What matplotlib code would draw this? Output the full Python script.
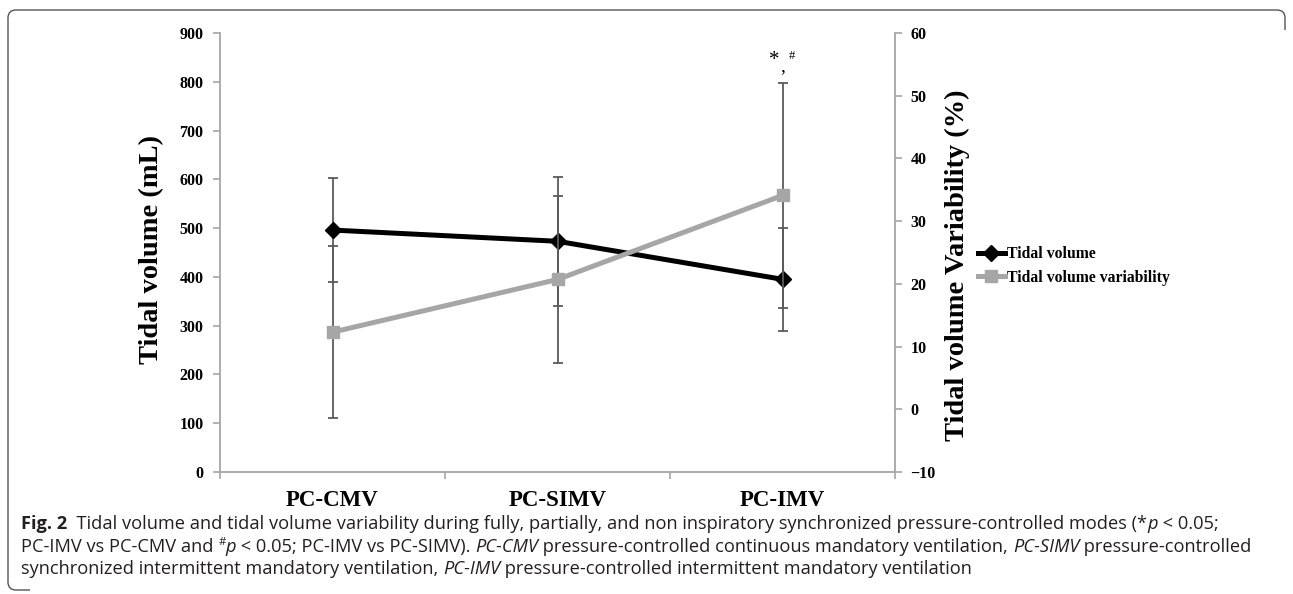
import matplotlib
matplotlib.use("Agg")
import matplotlib.pyplot as plt
from matplotlib.transforms import IdentityTransform
from matplotlib.path import Path
from matplotlib.patches import PathPatch

# ---------------- data ----------------
categories = ["PC-CMV", "PC-SIMV", "PC-IMV"]
tidal_volume = [496, 473, 395]          # mL
tidal_volume_sd = [106, 132, 105]
tv_variability = [12.3, 20.7, 34.1]     # %
tv_variability_sd = [13.7, 13.3, 17.9]
left_ticks = [0, 100, 200, 300, 400, 500, 600, 700, 800, 900]
right_ticks = [-10, 0, 10, 20, 30, 40, 50, 60]

W, H, DPI = 1293, 594, 100
fig = plt.figure(figsize=(W / DPI, H / DPI), dpi=DPI)
fig.patch.set_facecolor("white")

L, R, B, T = 220, 895, 472, 33
ax = fig.add_axes([L / W, 1 - B / H, (R - L) / W, (B - T) / H])
ax2 = ax.twinx()

SERIF = "Liberation Serif"
SPINE = "#a6a6a6"
ERR = "#5a5a5a"

x = list(range(len(categories)))

# error bars first (below lines)
ax.errorbar(x, tidal_volume, yerr=tidal_volume_sd, fmt="none", ecolor=ERR,
            elinewidth=1.3, capsize=3.5, capthick=1.3, zorder=1)
ax2.errorbar(x, tv_variability, yerr=tv_variability_sd, fmt="none", ecolor=ERR,
             elinewidth=1.3, capsize=3.5, capthick=1.3, zorder=1)

l1, = ax.plot(x, tidal_volume, color="black", lw=3.6, marker="D", ms=8,
              label="Tidal volume", zorder=3)
l2, = ax2.plot(x, tv_variability, color="#a6a6a6", lw=3.6, marker="s", ms=9,
               label="Tidal volume variability", zorder=3)

ax.set_xlim(-0.5, 2.5)
ax.set_ylim(0, 900)
ax2.set_ylim(-10, 60)
ax.set_yticks(left_ticks)
ax2.set_yticks(right_ticks)
ax.set_xticks(x)
ax.set_xticklabels(categories)
ax.set_xticks([-0.5, 0.5, 1.5, 2.5], minor=True)

for a in (ax, ax2):
    a.patch.set_visible(False)
    a.spines["top"].set_visible(False)
    for s in ("left", "right", "bottom"):
        a.spines[s].set_color(SPINE)
        a.spines[s].set_linewidth(1.3)
ax.spines["right"].set_visible(False)
ax2.spines["left"].set_visible(False)
ax2.spines["bottom"].set_visible(False)

ax.tick_params(axis="x", which="major", length=0, pad=13)
ax.tick_params(axis="x", which="minor", length=5, color=SPINE, width=1.2, direction="out")
ax.tick_params(axis="y", length=5, color=SPINE, width=1.2, pad=7, direction="out")
ax2.tick_params(axis="y", length=5, color=SPINE, width=1.2, pad=6, direction="out")

for lab in ax.get_xticklabels():
    lab.set_fontfamily(SERIF); lab.set_fontweight("bold"); lab.set_fontsize(16.5)
for lab in ax.get_yticklabels() + ax2.get_yticklabels():
    lab.set_fontfamily(SERIF); lab.set_fontweight("bold"); lab.set_fontsize(11.5)

# axis titles (placed in pixel coordinates)
fig.text(152, H - 250, "Tidal volume (mL)", rotation=90, ha="center", va="center",
         fontfamily=SERIF, fontweight="bold", fontsize=20.5, transform=IdentityTransform())
fig.text(957, H - 265, "Tidal volume Variability (%)", rotation=90, ha="center", va="center",
         fontfamily=SERIF, fontweight="bold", fontsize=20.5, transform=IdentityTransform())

# significance mark
top = tv_variability[2] + tv_variability_sd[2]
ax2.annotate("*", xy=(2, top), xytext=(-8, 23), textcoords="offset pixels",
             ha="center", va="center", fontsize=15, fontfamily=SERIF)
ax2.annotate(",", xy=(2, top), xytext=(0, 17), textcoords="offset pixels",
             ha="center", va="center", fontsize=14, fontfamily=SERIF)
ax2.annotate("#", xy=(2, top), xytext=(9, 27), textcoords="offset pixels",
             ha="center", va="center", fontsize=9, fontfamily=SERIF)

# legend
fig.legend(handles=[l1, l2], loc="center left",
           bbox_to_anchor=(978 / W, 1 - 266 / H), frameon=False,
           prop={"family": SERIF, "weight": "bold", "size": 11.3},
           handlelength=1.7, handletextpad=0.15, labelspacing=0.45,
           borderaxespad=0, borderpad=0)

# caption with mixed styles
SANS = "Open Sans"
renderer = fig.canvas.get_renderer()

def draw_runs(x0, ybase, parts, size):
    xx = x0
    arts = []
    for text, st in parts:
        kw = dict(fontsize=size, fontfamily=SANS, color="#231f20",
                  transform=IdentityTransform(), va="baseline", ha="left")
        yy = ybase
        if st == "b":
            kw["fontweight"] = "bold"
        elif st == "i":
            kw["fontstyle"] = "italic"
        elif st == "sup":
            kw["fontsize"] = size * 0.62
            yy = ybase + size * 0.55
        t = fig.text(xx, yy, text, **kw)
        arts.append(t)
        xx += t.get_window_extent(renderer).width
    return xx, arts

line1 = [("Fig. 2", "b"),
         ("  Tidal volume and tidal volume variability during fully, partially, and non inspiratory synchronized pressure-controlled modes (*", "n"),
         ("p", "i"), (" < 0.05;", "n")]
line2 = [("PC-IMV vs PC-CMV and ", "n"), ("#", "sup"), ("p", "i"),
         (" < 0.05; PC-IMV vs PC-SIMV). ", "n"), ("PC-CMV", "i"),
         (" pressure-controlled continuous mandatory ventilation, ", "n"),
         ("PC-SIMV", "i"), (" pressure-controlled", "n")]
line3 = [("synchronized intermittent mandatory ventilation, ", "n"), ("PC-IMV", "i"),
         (" pressure-controlled intermittent mandatory ventilation", "n")]

s0 = 11.0
end, arts = draw_runs(21, H - 529, line1, s0)
for a_ in arts:
    a_.remove()
size = s0 * (1222 - 21) / (end - 21)
draw_runs(21, H - 529, line1, size)
draw_runs(21, H - 552, line2, size)
draw_runs(21, H - 574, line3, size)

# frame
verts = [(1285, H - 30), (1285, H - 18), (1285, H - 10), (1277, H - 10),
         (16, H - 10), (8, H - 10), (8, H - 18),
         (8, H - 582), (8, H - 590), (16, H - 590), (30, H - 590)]
codes = [Path.MOVETO, Path.LINETO, Path.CURVE3, Path.CURVE3,
         Path.LINETO, Path.CURVE3, Path.CURVE3,
         Path.LINETO, Path.CURVE3, Path.CURVE3, Path.LINETO]
fig.patches.append(PathPatch(Path(verts, codes), transform=IdentityTransform(),
                             fill=False, edgecolor="#555555", lw=1.0))

fig.savefig("out.png", dpi=DPI, facecolor="white")
